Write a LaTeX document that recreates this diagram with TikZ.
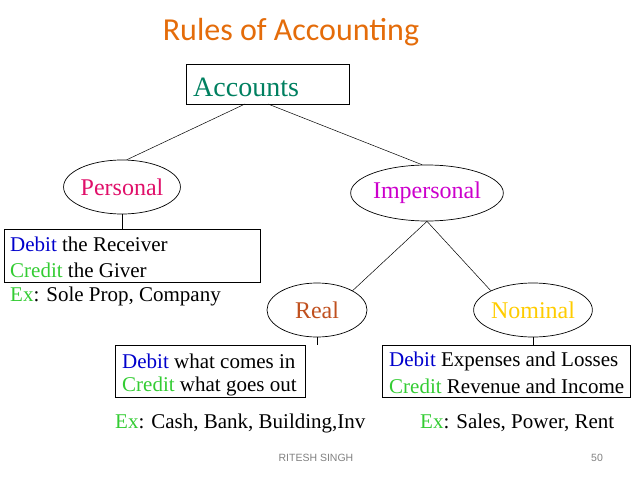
\documentclass[tikz,border=0pt]{standalone}
\usepackage{fontspec}
\setmainfont{Liberation Serif}
\newfontfamily\titlefont{Carlito}
\newfontfamily\footfont{Liberation Sans}
\usetikzlibrary{shapes.geometric}
\definecolor{ttl}{HTML}{E46C0A}
\definecolor{acc}{HTML}{008060}
\definecolor{pers}{HTML}{E0106A}
\definecolor{imp}{HTML}{CC00CC}
\definecolor{realc}{HTML}{C0501E}
\definecolor{nomc}{HTML}{FFCC00}
\definecolor{deb}{HTML}{0000CC}
\definecolor{cre}{HTML}{33CC33}
\tikzset{
  ell/.style={ellipse,draw,line width=0.7pt,inner sep=0pt,font=\fontsize{24}{28}\selectfont},
  rbox/.style={draw,line width=0.8pt,anchor=north west},
  txt/.style={anchor=west,inner sep=0pt,font=\fontsize{21}{24}\selectfont},
  con/.style={line width=0.5pt}
}
\begin{document}
\begin{tikzpicture}[x=1pt,y=-1pt]
\useasboundingbox (0,0) rectangle (638,479);
\node[font=\titlefont\fontsize{32}{36}\selectfont,text=ttl] (title) at (291,32) {Rules of Accounting};
\node[rbox,minimum width=163,minimum height=40] (acc) at (186,64) {};
\node[txt,text=acc,font=\fontsize{28}{32}\selectfont] (acct) at (193,87) {Accounts};
\node[ell,minimum width=116,minimum height=54,text=pers] (pers) at (122,187) {Personal};
\node[ell,minimum width=132,minimum height=56,text=imp] (imp) at (427,193) {Impersonal};
\node[ell,minimum width=100,minimum height=54,text=realc] (real) at (317,310) {Real};
\node[ell,minimum width=110,minimum height=54,text=nomc] (nom) at (533,310) {Nominal};
\coordinate (a1) at (245,104);
\coordinate (a2) at (268,104);
\draw[con] (a1) -- (pers.80);
\draw[con] (a2) -- (imp.100);
\draw[con] (imp.south) -- (real.north east);
\draw[con] (imp.south) -- (nom.north west);
% Personal box
\node[rbox,minimum width=256,minimum height=53] (pbox) at (4,229) {};
\draw[con] (pers.south) -- (pers.south |- pbox.north);
\node[txt] (p1) at (10,244) {\textcolor{deb}{Debit} the Receiver};
\node[txt] (p2) at (10,270) {\textcolor{cre}{Credit} the Giver};
\node[txt] (p3) at (10,296) {\textcolor{cre}{Ex}: Sole Prop, Company};
% Real box
\node[rbox,minimum width=190,minimum height=52] (rbx) at (115,345) {};
\draw[con] (real.south) -- (rbx.north -| real.south);
\node[txt] (r1) at (122,361) {\textcolor{deb}{Debit} what comes in};
\node[txt] (r2) at (122,386) {\textcolor{cre}{Credit} what goes out};
% Nominal box
\node[rbox,minimum width=248,minimum height=52] (nbx) at (382,345) {};
\draw[con] (nom.south) -- (nbx.north -| nom.south);
\node[txt] (n1) at (389,361) {\textcolor{deb}{Debit} Expenses and Losses};
\node[txt] (n2) at (389,386) {\textcolor{cre}{Credit} Revenue and Income};
\node[txt] (e1) at (115,423) {\textcolor{cre}{Ex}: Cash, Bank, Building,Inv};
\node[txt] (e2) at (420,423) {\textcolor{cre}{Ex}: Sales, Power, Rent};
\node[font=\footfont\fontsize{10.5}{12}\selectfont,text=gray] (f1) at (316,458) {RITESH SINGH};
\node[font=\footfont\fontsize{10.5}{12}\selectfont,text=gray] (f2) at (597,458) {50};
\end{tikzpicture}
\end{document}
